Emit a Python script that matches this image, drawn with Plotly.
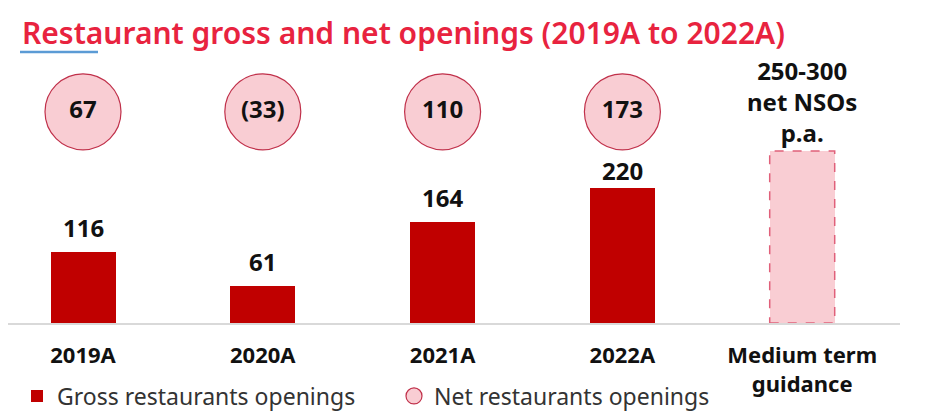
import plotly.graph_objects as go

categories = ["2019A", "2020A", "2021A", "2022A"]
guidance_category = "Medium term<br>guidance"
gross_openings = [116, 61, 164, 220]
net_openings = [67, -33, 110, 173]
net_labels = ["67", "(33)", "110", "173"]
guidance_value = 280
guidance_label = "250-300<br>net NSOs<br>p.a."

CIRCLE_Y = 344
BAR_W = 0.3615
RED = "#c00000"
PINK = "#f9cdd3"
FONT = "Noto Sans"
LABEL_SHIFTS = [6, 6, 6, -1]

xs = list(range(len(categories)))
gx = len(categories)

fig = go.Figure()
fig.add_trace(go.Bar(
    x=xs, y=gross_openings, width=BAR_W, marker=dict(color=RED, line=dict(width=0)),
    name="Gross restaurants openings", legend="legend",
))
fig.add_trace(go.Bar(
    x=[gx], y=[guidance_value], width=BAR_W, marker=dict(color=PINK, line=dict(width=0)),
    showlegend=False, hoverinfo="skip",
))
fig.add_trace(go.Scatter(
    x=xs, y=[CIRCLE_Y] * len(xs), mode="markers+text",
    marker=dict(size=76, color=PINK, line=dict(color="#c0304a", width=1.2)),
    text=net_labels, textposition="middle center",
    textfont=dict(size=24, color="#111111", family=FONT, weight="bold"),
    customdata=net_openings, cliponaxis=False,
    name="Net restaurants openings", legend="legend2",
))

for x, v, s in zip(xs, gross_openings, LABEL_SHIFTS):
    fig.add_annotation(x=x, y=v, xref="x", yref="y", text=str(v), showarrow=False,
                       yanchor="bottom", yshift=s,
                       font=dict(size=24, color="#111111", family=FONT, weight="bold"))

fig.add_shape(type="rect", xref="x", yref="y",
              x0=gx - BAR_W / 2, x1=gx + BAR_W / 2, y0=0, y1=guidance_value,
              line=dict(color="#e0607a", width=1.5, dash="dash"), fillcolor="rgba(0,0,0,0)")
fig.add_annotation(x=gx, y=guidance_value, yref="y", xref="x", text=guidance_label,
                   showarrow=False, yanchor="bottom", yshift=0,
                   font=dict(size=24, color="#111111", family=FONT, weight="bold"))
fig.add_shape(type="line", xref="paper", yref="paper",
              x0=12 / 892, x1=90 / 892, y0=(315 - 44) / 315, y1=(315 - 44) / 315,
              line=dict(color="#5b9bd5", width=2.5))

legend_common = dict(orientation="h", yanchor="middle", y=-(388 - 315) / 315, xanchor="left",
                     font=dict(size=23, color="#333333", family=FONT), bgcolor="rgba(0,0,0,0)")

fig.update_layout(
    width=925, height=416,
    margin=dict(l=0, r=33, t=0, b=101),
    paper_bgcolor="white", plot_bgcolor="white",
    bargap=0,
    title=dict(text="Restaurant gross and net openings (2019A to 2022A)",
               x=14 / 925, xanchor="left", xref="container", y=1 - 25 / 416, yanchor="middle",
               yref="container",
               font=dict(size=30, color="#e8233f", family=FONT, weight=600)),
    xaxis=dict(range=[(8 - 83) / 179.8, (900 - 83) / 179.8],
               tickvals=xs + [gx], ticktext=categories + [guidance_category],
               tickfont=dict(size=22, color="#111111", family=FONT, weight="bold"),
               showline=True, linecolor="#d9d9d9", linewidth=1.5,
               showgrid=False, zeroline=False, ticks="", ticklabelstandoff=12),
    yaxis=dict(range=[0, 315 / 0.614], visible=False),
    legend=dict(x=9 / 892, **legend_common),
    legend2=dict(x=386 / 892, **legend_common),
    showlegend=True,
)

fig.write_html("out.html")
